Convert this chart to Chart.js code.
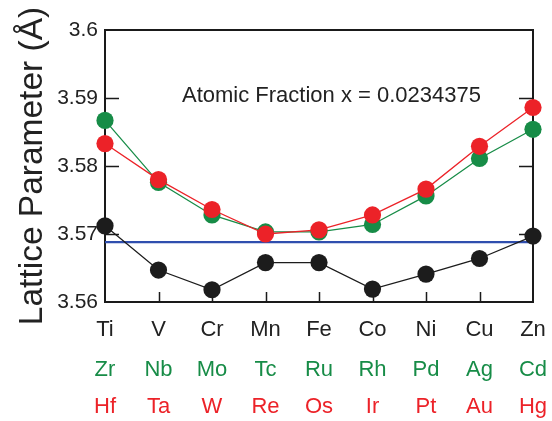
<!DOCTYPE html>
<html>
<head>
<meta charset="utf-8">
<script src="https://cdn.jsdelivr.net/npm/chart.js@4.4.1/dist/chart.umd.min.js"></script>
<style>
  html, body { margin: 0; padding: 0; background: #fff; }
  #wrap { width: 552px; height: 421px; }
</style>
</head>
<body>
<div id="wrap"><canvas id="c" width="552" height="421"></canvas></div>
<script>
// Host elements (3d row, 4d row, 5d row)
const HOST_3D = ['Ti', 'V', 'Cr', 'Mn', 'Fe', 'Co', 'Ni', 'Cu', 'Zn'];
const HOST_4D = ['Zr', 'Nb', 'Mo', 'Tc', 'Ru', 'Rh', 'Pd', 'Ag', 'Cd'];
const HOST_5D = ['Hf', 'Ta', 'W', 'Re', 'Os', 'Ir', 'Pt', 'Au', 'Hg'];

// Lattice parameter (Å) for each solute series
const LATTICE_3D = [3.5712, 3.5647, 3.5618, 3.5658, 3.5658, 3.5619, 3.5641, 3.5664, 3.5697];
const LATTICE_4D = [3.5867, 3.5776, 3.5728, 3.5703, 3.5703, 3.5714, 3.5756, 3.5811, 3.5854];
const LATTICE_5D = [3.5833, 3.5780, 3.5736, 3.5700, 3.5706, 3.5728, 3.5766, 3.5829, 3.5886];

// Pure host reference value
const REF_LATTICE = 3.5688;

const Y_MIN = 3.56, Y_MAX = 3.60, Y_STEP = 0.01;

const COL_3D = '#1c1c1c';
const COL_4D = '#178c47';
const COL_5D = '#ec2228';
const COL_REF = '#2f4eae';
const FONT = '"Liberation Sans", Arial, Helvetica, sans-serif';

const frame = {
  id: 'frame',
  beforeDatasetsDraw(chart) {
    const { ctx, chartArea: a, scales: { x, y } } = chart;
    ctx.save();
    ctx.strokeStyle = '#1a1a1a';
    ctx.lineWidth = 2;
    ctx.strokeRect(a.left, a.top, a.right - a.left, a.bottom - a.top);
    ctx.lineWidth = 1.5;
    ctx.beginPath();
    y.ticks.forEach((t, i) => {
      const py = Math.round(y.getPixelForTick(i)) + 0.5;
      if (py <= a.top + 2 || py >= a.bottom - 2) return;
      ctx.moveTo(a.left, py); ctx.lineTo(a.left + 14, py);
      ctx.moveTo(a.right, py); ctx.lineTo(a.right - 14, py);
    });
    x.ticks.forEach((t, i) => {
      const px = Math.round(x.getPixelForTick(i)) + 0.5;
      if (px <= a.left + 2 || px >= a.right - 2) return;
      ctx.moveTo(px, a.bottom); ctx.lineTo(px, a.bottom - 10);
    });
    ctx.stroke();
    ctx.restore();
  },
  afterDraw(chart) {
    const { ctx, chartArea: a, scales: { x } } = chart;
    ctx.save();
    ctx.font = '22px ' + FONT;
    ctx.textAlign = 'center';
    ctx.textBaseline = 'alphabetic';
    const rows = [[HOST_3D, '#222222', 34], [HOST_4D, COL_4D, 74], [HOST_5D, COL_5D, 111]];
    rows.forEach(([names, col, dy]) => {
      ctx.fillStyle = col;
      names.forEach((n, i) => ctx.fillText(n, x.getPixelForValue(i), a.bottom + dy));
    });

    // annotation
    ctx.fillStyle = '#222222';
    ctx.textAlign = 'left';
    ctx.fillText('Atomic Fraction x = 0.0234375', a.left + 77, a.top + 72);

    // y axis title
    ctx.font = '33.5px ' + FONT;
    ctx.textAlign = 'center';
    ctx.translate(42, 166);
    ctx.rotate(-Math.PI / 2);
    ctx.fillText('Lattice Parameter (Å)', 0, 0);
    ctx.restore();
  }
};

const pointSeries = (label, data, color, order) => ({
  label, data, order,
  borderColor: color,
  backgroundColor: color,
  borderWidth: 1.3,
  pointRadius: 8.6,
  pointHoverRadius: 8.6,
  pointBorderWidth: 0,
  pointBackgroundColor: color,
  tension: 0,
  clip: false
});

new Chart(document.getElementById('c'), {
  type: 'line',
  data: {
    labels: HOST_3D,
    datasets: [
      pointSeries('3d', LATTICE_3D, COL_3D, 0),
      pointSeries('5d', LATTICE_5D, COL_5D, 1),
      pointSeries('4d', LATTICE_4D, COL_4D, 2),
      {
        label: 'host', order: 3,
        data: HOST_3D.map(() => REF_LATTICE),
        borderColor: COL_REF, borderWidth: 2.2,
        pointRadius: 0, tension: 0, clip: false
      }
    ]
  },
  options: {
    responsive: false,
    animation: false,
    devicePixelRatio: 1,
    layout: { padding: { left: 0, right: 19, top: 30, bottom: 119 } },
    plugins: { legend: { display: false }, tooltip: { enabled: false } },
    scales: {
      x: {
        type: 'category',
        offset: false,
        grid: { display: false, drawTicks: false },
        border: { display: false },
        ticks: { display: false },
        afterFit(scale) { scale.height = 0; }
      },
      y: {
        min: Y_MIN, max: Y_MAX,
        grid: { display: false, drawTicks: false },
        border: { display: false },
        ticks: {
          stepSize: Y_STEP,
          padding: 7,
          color: '#222222',
          font: { family: FONT, size: 21 },
          callback: v => String(parseFloat(Number(v).toFixed(2)))
        },
        afterFit(scale) { scale.width = 105; }
      }
    }
  },
  plugins: [frame]
});
</script>
</body>
</html>
